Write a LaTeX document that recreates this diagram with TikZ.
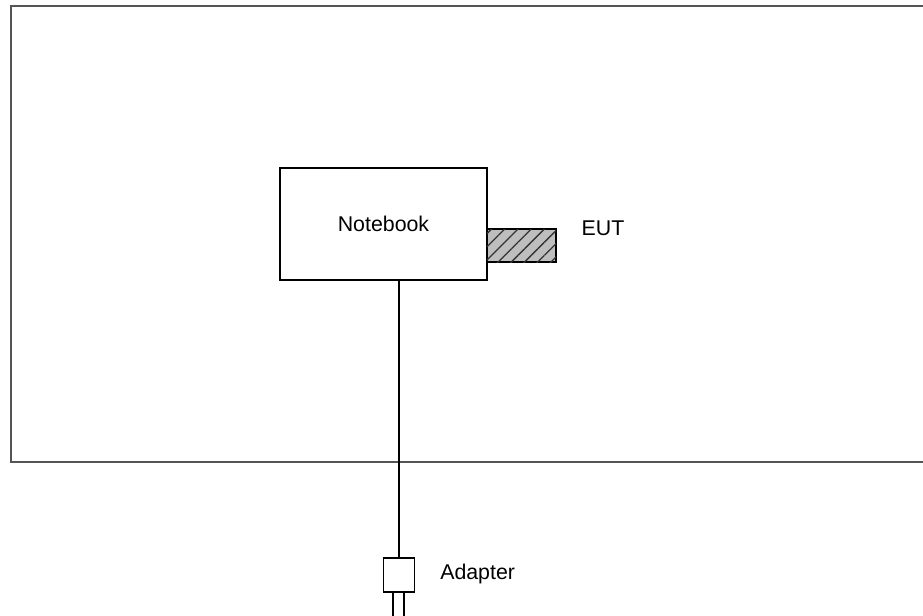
\documentclass[tikz,border=0pt]{standalone}
\usepackage{fontspec}
\setmainfont{Liberation Sans}
\usetikzlibrary{positioning, calc, patterns.meta}
\definecolor{framegray}{RGB}{85, 85, 85}
\definecolor{eutgray}{RGB}{190, 190, 190}

\begin{document}
\begin{tikzpicture}[x=0.75pt, y=-0.75pt]
    \tikzstyle{unit}=[draw=black, line width=0.8pt, inner sep=0pt]
    \tikzstyle{label}=[font=\fontsize{16}{19}\selectfont, inner sep=0pt]

    \useasboundingbox (0, 0) rectangle (923, 615);

    % Test table (open towards the right)
    \draw[framegray, line width=1.3pt] (930, 6) -- (11, 6) -- (11, 462) -- (930, 462);

    % Notebook
    \node[unit, minimum width=155.25pt, minimum height=84pt] (notebook) at (383.5, 224) {};
    \node[label] (nblabel) at (383.5, 224) {Notebook};

    % EUT plugged in at the side
    \node[unit, minimum width=51.75pt, minimum height=24.75pt, fill=eutgray,
          postaction={pattern={Lines[angle=45, distance=7pt, line width=1pt]}, pattern color=black!80}]
          (eut) at (521.5, 245.5) {};
    \node[label] (eutlabel) at (603, 228) {EUT};

    % Adapter and its cable
    \node[unit, minimum width=23.25pt, minimum height=25.5pt] (adapter) at (399, 575) {};
    \node[label, anchor=west] (adlabel) at (440, 574) {Adapter};
    \draw[line width=0.8pt] (adapter.north |- notebook.south) -- (adapter.north);

    % Plug pins
    \coordinate (pinl) at ($(adapter.south) + (-6, 23)$);
    \coordinate (pinr) at ($(adapter.south) + (5, 23)$);
    \draw[line width=0.8pt] (adapter.south -| pinl) -- (pinl);
    \draw[line width=0.8pt] (adapter.south -| pinr) -- (pinr);
\end{tikzpicture}
\end{document}
